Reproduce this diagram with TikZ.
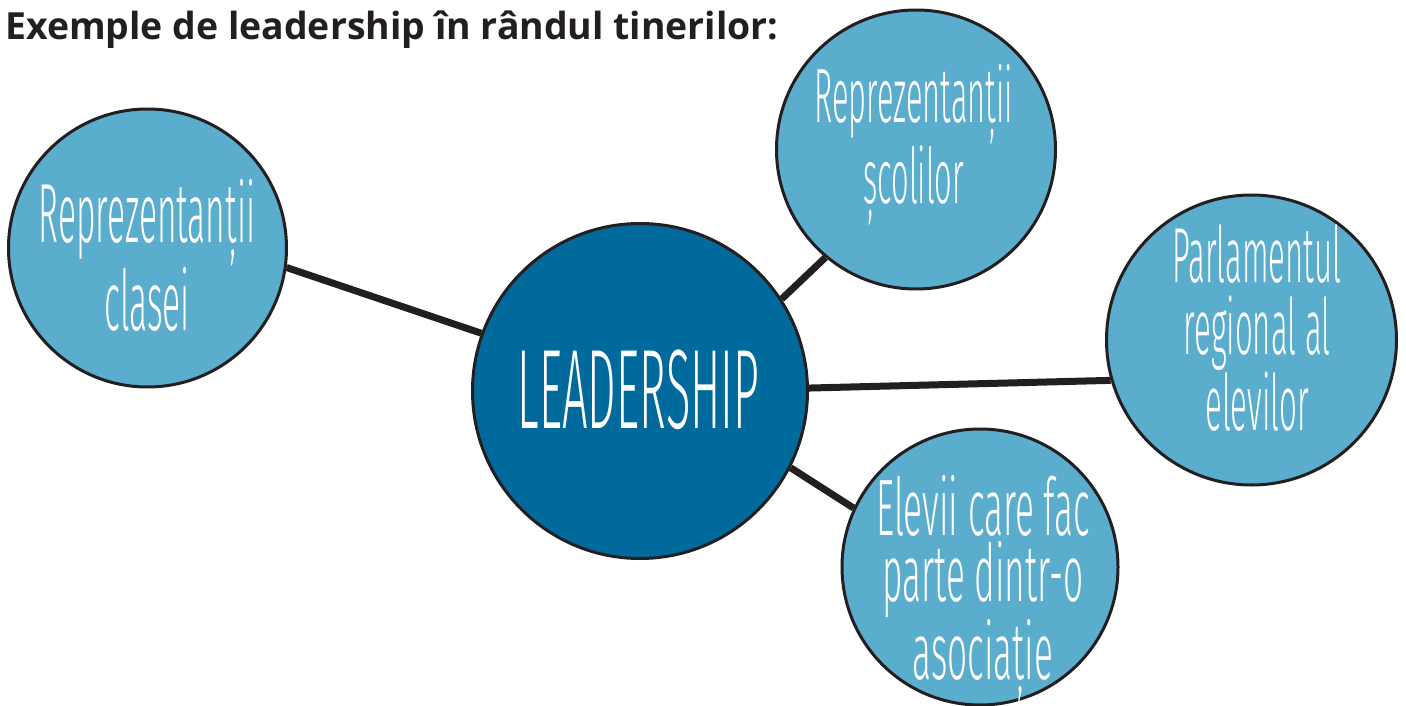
\documentclass[tikz,border=0pt]{standalone}
\usepackage{fontspec}
\setmainfont{Open Sans}
\newfontfamily\handfont{Fira Sans Light}[FakeStretch=0.4]
\newfontfamily\handwide{Fira Sans Light}[FakeStretch=0.44]
\definecolor{inkline}{HTML}{231F20}
\definecolor{leadblue}{HTML}{006A9D}
\definecolor{skyblue}{HTML}{5BADCE}
\begin{document}
\begin{tikzpicture}[x=1pt, y=-1pt,
        bubble/.style={circle, draw=inkline, line width=3pt, fill=skyblue, inner sep=0pt, minimum size=#1},
        bubbletext/.style={text=white, align=center, anchor=base, inner sep=0pt},
        link/.style={draw=inkline, line width=7pt}]
            \useasboundingbox (0,0) rectangle (1406,706);
            \node[anchor=base west, inner sep=0pt, text=inkline, font=\bfseries\fontsize{37.4}{44}\selectfont] (title) at (5,40) {Exemple de leadership în rândul tinerilor:};
            \node[bubble=278] (clasa) at (147.5,248) {};
            \node[bubble=335, fill=leadblue] (lead) at (640,391) {};
            \node[bubble=279] (scoli) at (916,149.5) {};
            \node[bubble=290] (parl) at (1251.5,340) {};
            \node[bubble=276] (elevi) at (980,567) {};
            \draw[link] (clasa.-8) -- (lead.160); % left branch
            \draw[link] (scoli.230) -- (lead.33); % top branch
            \draw[link] (lead.1.4) -- (parl.196.5); % right branch
            \draw[link] (lead.-27) -- (elevi.155); % bottom branch
            % text nodes sit on the baseline of their last line
            \node[bubbletext, font=\handfont\fontsize{113}{113}\selectfont] (leadtext) at (638.5,428) {LEADERSHIP};
            \node[bubbletext, font=\handfont\fontsize{84}{82}\selectfont] (clasatext) at (147,330) {Reprezentanții\\clasei};
            \node[bubbletext, font=\handfont\fontsize{77}{70}\selectfont] (scolitext) at (913.5,203) {Reprezentanții\\școlilor};
            \node[bubbletext, font=\handfont\fontsize{78}{72}\selectfont] (parltext) at (1257,430) {Parlamentul\\regional al\\elevilor};
            \node[bubbletext, font=\handwide\fontsize{80}{66}\selectfont] (elevitext) at (983,679) {Elevii care fac\\parte dintr-o\\asociație};
        \end{tikzpicture}
\end{document}
